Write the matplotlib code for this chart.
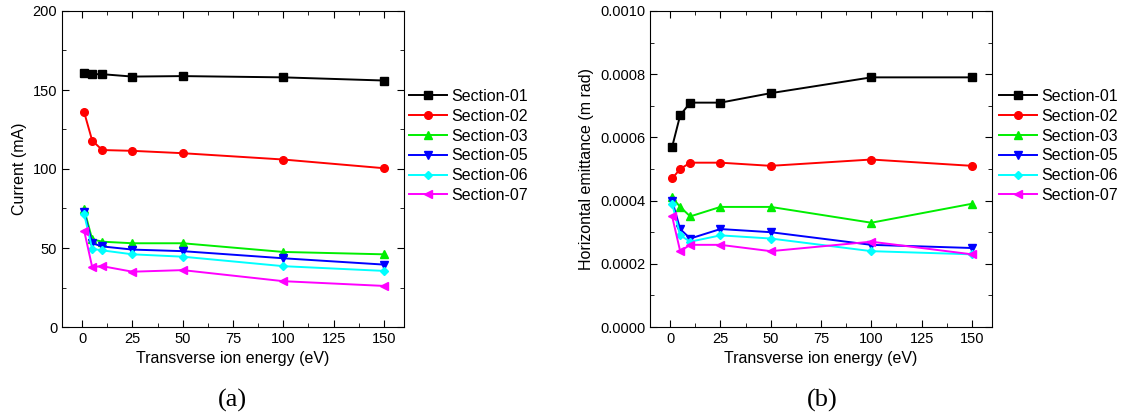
import numpy as np
import matplotlib
matplotlib.use('Agg')
import matplotlib.pyplot as plt
from matplotlib.ticker import MultipleLocator

plt.rcParams['font.family'] = 'Liberation Sans'
plt.rcParams['font.size'] = 10.5

energy = [1, 5, 10, 25, 50, 100, 150]
labels = ['Section-01', 'Section-02', 'Section-03', 'Section-05', 'Section-06', 'Section-07']
colors = ['black', 'red', '#00ee00', 'blue', 'cyan', 'magenta']
markers = ['s', 'o', '^', 'v', 'D', '<']

# (a) current in mA
cur01 = [160.5, 160, 160, 158.5, 158.8, 158, 156]
cur02 = [136, 118, 112, 111.5, 110, 106, 100.5]
cur03 = [74.5, 55.5, 54, 53, 53, 47.5, 46]
cur05 = [72.5, 53, 51, 49, 48, 43.5, 39.5]
cur06 = [71.5, 49.5, 48.5, 46, 44.5, 38.5, 35.5]
cur07 = [61, 38, 38.5, 35, 36, 29, 26]

# (b) horizontal emittance in m rad
emi01 = [0.00057, 0.00067, 0.00071, 0.00071, 0.00074, 0.00079, 0.00079]
emi02 = [0.00047, 0.00050, 0.00052, 0.00052, 0.00051, 0.00053, 0.00051]
emi03 = [0.00041, 0.00038, 0.00035, 0.00038, 0.00038, 0.00033, 0.00039]
emi05 = [0.00040, 0.00031, 0.00028, 0.00031, 0.00030, 0.00026, 0.00025]
emi06 = [0.00039, 0.00029, 0.00027, 0.00029, 0.00028, 0.00024, 0.00023]
emi07 = [0.00035, 0.00024, 0.00026, 0.00026, 0.00024, 0.00027, 0.00023]

fig = plt.figure(figsize=(11.21, 4.19), dpi=100)
ax1 = fig.add_axes([62/1121, 1-327/419, (404-62)/1121, 316/419])
ax2 = fig.add_axes([650/1121, 1-327/419, (992-650)/1121, 316/419])


def draw(ax, series, ylab, legx):
    for y, lab, c, m in zip(series, labels, colors, markers):
        ms = 5.5 if m != 'D' else 4.5
        ax.plot(energy, y, color=c, marker=m, markersize=ms, lw=1.4, label=lab)
    ax.set_xlim(-10, 160)
    ax.xaxis.set_major_locator(MultipleLocator(25))
    ax.xaxis.set_minor_locator(MultipleLocator(12.5))
    ax.tick_params(which='both', direction='in', top=True, right=True)
    ax.tick_params(which='major', length=5)
    ax.tick_params(which='minor', length=3)
    ax.set_xlabel('Transverse ion energy (eV)', fontsize=11.5)
    ax.set_ylabel(ylab, fontsize=11.5)
    ax.legend(loc='upper left', bbox_to_anchor=(legx/1121, 1-89/419),
              bbox_transform=fig.transFigure, frameon=False, borderpad=0,
              borderaxespad=0, fontsize=11.5, handlelength=2.4,
              labelspacing=0.3, handletextpad=0.25)


draw(ax1, [cur01, cur02, cur03, cur05, cur06, cur07], 'Current (mA)', 409)
ax1.set_ylim(0, 200)
ax1.yaxis.set_major_locator(MultipleLocator(50))
ax1.yaxis.set_minor_locator(MultipleLocator(25))

draw(ax2, [emi01, emi02, emi03, emi05, emi06, emi07], 'Horizontal emittance (m rad)', 999)
ax2.set_ylim(0, 0.001)
ax2.yaxis.set_major_locator(MultipleLocator(0.0002))
ax2.yaxis.set_minor_locator(MultipleLocator(0.0001))
ax2.yaxis.set_major_formatter(plt.FormatStrFormatter('%.4f'))

fig.text(232/1121, 1-400/419, '(a)', family='Liberation Serif', fontsize=19, ha='center', va='center')
fig.text(822/1121, 1-400/419, '(b)', family='Liberation Serif', fontsize=19, ha='center', va='center')

plt.savefig('out.png', dpi=100)
